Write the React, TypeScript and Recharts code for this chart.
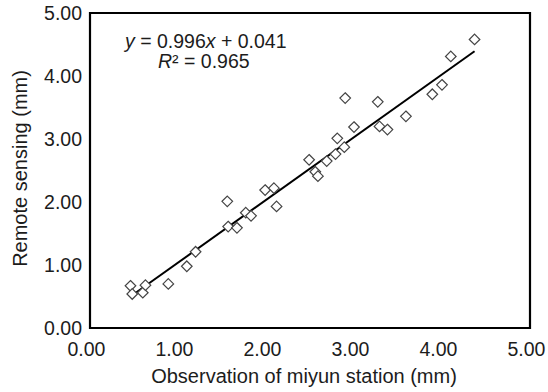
import { ScatterChart, Scatter, XAxis, YAxis, ReferenceLine, ReferenceArea } from "recharts";

// observation at miyun station (mm)
const obsX = [
    0.46, 0.48, 0.60, 0.63, 0.89, 1.10, 1.20, 1.56, 1.57, 1.67, 1.77, 1.83,
    1.99, 2.09, 2.12, 2.49, 2.56, 2.59, 2.69, 2.79, 2.81, 2.89, 2.90, 3.00,
    3.27, 3.29, 3.38, 3.59, 3.89, 4.00, 4.10, 4.37
];
// remote sensing estimate (mm)
const rsY = [
    0.67, 0.54, 0.56, 0.68, 0.70, 0.98, 1.21, 2.01, 1.61, 1.59, 1.83, 1.78,
    2.19, 2.22, 1.93, 2.67, 2.48, 2.41, 2.65, 2.76, 3.01, 2.87, 3.65, 3.19,
    3.59, 3.20, 3.15, 3.36, 3.71, 3.86, 4.31, 4.58
];
const axisTicks = [0, 1, 2, 3, 4, 5];
const slope = 0.996;
const intercept = 0.041;

const points = obsX.map((x, i) => ({ x, y: rsY[i] }));
const xMin = Math.min(...obsX);
const xMax = Math.max(...obsX);

const font = "'Liberation Sans', Arial, sans-serif";
const ink = "#1c1c1c";

const Diamond = (props: any) => {
    const { cx, cy } = props;
    const r = 5.3;
    return (
        <path
            d={`M${cx},${cy - r}L${cx + r},${cy}L${cx},${cy + r}L${cx - r},${cy}Z`}
            fill="#fff"
            stroke="#444"
            strokeWidth={1.2}
        />
    );
};

const XTick = ({ x, y, payload }: any) => (
    <text x={x - 3.5} y={y} dy="0.71em" textAnchor="middle" fill={ink} fontSize={19.5} fontFamily={font}>
        {Number(payload.value).toFixed(2)}
    </text>
);

const YTick = ({ x, y, payload }: any) => (
    <text x={x} y={y} dy="0.36em" textAnchor="end" fill={ink} fontSize={19.5} fontFamily={font}>
        {Number(payload.value).toFixed(2)}
    </text>
);

export default function App() {
    return (
        <div style={{ position: "absolute", left: 0, top: 0, width: 548, height: 392, background: "#fff" }}>
            <ScatterChart width={548} height={392} margin={{ top: 13, right: 18, bottom: 0, left: 0 }}>
                <XAxis
                    type="number"
                    dataKey="x"
                    domain={[0, 5]}
                    ticks={axisTicks}
                    height={64}
                    axisLine={false}
                    tickLine={false}
                    tickMargin={8}
                    tick={<XTick />}
                    label={{
                        value: "Observation of miyun station (mm)",
                        position: "insideBottom",
                        offset: 9,
                        dx: -6,
                        fill: ink,
                        fontSize: 20,
                        fontFamily: font
                    }}
                />
                <YAxis
                    type="number"
                    dataKey="y"
                    domain={[0, 5]}
                    ticks={axisTicks}
                    width={90}
                    axisLine={false}
                    tickLine={false}
                    tick={<YTick />}
                    label={{
                        value: "Remote sensing (mm)",
                        angle: -90,
                        position: "insideLeft",
                        offset: 20,
                        dy: -2,
                        fill: ink,
                        fontSize: 20,
                        fontFamily: font,
                        style: { textAnchor: "middle" }
                    }}
                />
                <Scatter data={points} shape={<Diamond />} isAnimationActive={false} />
                <ReferenceLine
                    segment={[
                        { x: xMin, y: slope * xMin + intercept },
                        { x: xMax, y: slope * xMax + intercept }
                    ]}
                    stroke="#000"
                    strokeWidth={2}
                />
                <ReferenceArea x1={0} x2={5} y1={0} y2={5} fill="none" stroke="#000" strokeWidth={2.2} />
            </ScatterChart>
            <div
                style={{
                    position: "absolute",
                    left: 125,
                    top: 31,
                    fontFamily: font,
                    fontSize: 19.5,
                    lineHeight: "20px",
                    color: ink,
                    whiteSpace: "nowrap"
                }}
            >
                <i>y</i> = 0.996<i>x</i> + 0.041
            </div>
            <div
                style={{
                    position: "absolute",
                    left: 158,
                    top: 51,
                    fontFamily: font,
                    fontSize: 19.5,
                    lineHeight: "20px",
                    color: ink,
                    whiteSpace: "nowrap"
                }}
            >
                <i>R</i>² = 0.965
            </div>
        </div>
    );
}
